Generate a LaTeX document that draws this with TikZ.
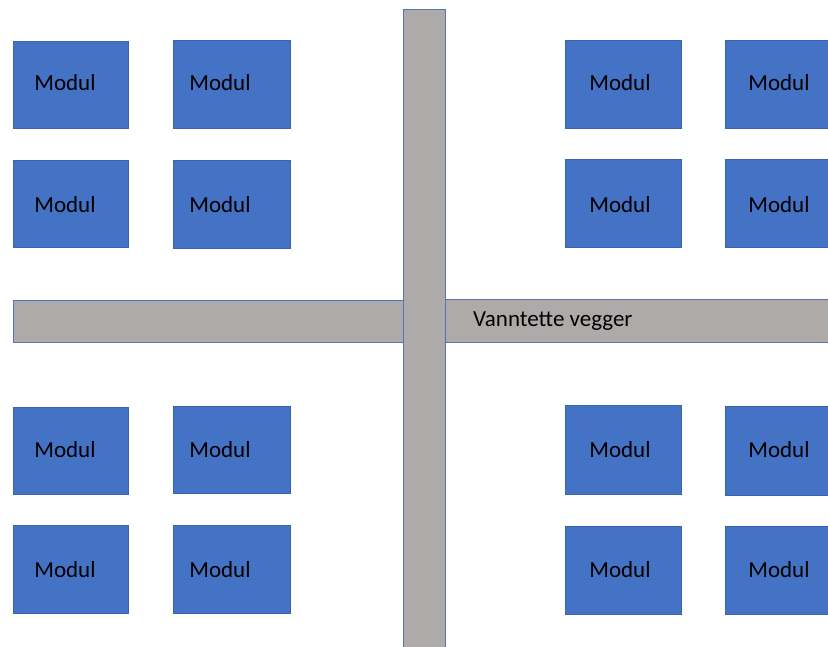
\documentclass[tikz,border=0pt]{standalone}
\usepackage{fontspec}
\setmainfont{Carlito}
\definecolor{modblue}{HTML}{4472C4}
\definecolor{modedge}{HTML}{3A64AE}
\definecolor{wallgray}{HTML}{AEAAAA}
\definecolor{walledge}{HTML}{5673B8}
\begin{document}
\begin{tikzpicture}[x=1pt,y=-1pt,
  modbox/.style={fill=modblue,draw=modedge,line width=0.8pt},
  wall/.style={fill=wallgray,draw=walledge,line width=0.9pt},
  lbl/.style={font=\fontsize{23}{28}\selectfont,text=black,inner sep=0pt}]
\useasboundingbox (0,0) rectangle (828,646);
\clip (0,0) rectangle (828,646);
\fill[white] (0,0) rectangle (828,646);
% horizontal walls
\draw[wall] (13,300) rectangle (404,342);
\draw[wall] (445,299) rectangle (840,342);
% vertical wall
\draw[wall] (403,9) rectangle (445,660);
% modules
\draw[modbox] (13,41) rectangle (128,128) node[pos=.5] (m11) {};
\draw[modbox] (173,40) rectangle (290,128) node[pos=.5] (m12) {};
\draw[modbox] (13,160) rectangle (128,247) node[pos=.5] (m21) {};
\draw[modbox] (173,160) rectangle (290,248) node[pos=.5] (m22) {};
\draw[modbox] (565,40) rectangle (681,128) node[pos=.5] (m13) {};
\draw[modbox] (725,40) rectangle (842,128) node[pos=.5] (m14) {};
\draw[modbox] (565,159) rectangle (681,247) node[pos=.5] (m23) {};
\draw[modbox] (725,159) rectangle (842,247) node[pos=.5] (m24) {};
\draw[modbox] (13,407) rectangle (128,494) node[pos=.5] (m31) {};
\draw[modbox] (173,406) rectangle (290,493) node[pos=.5] (m32) {};
\draw[modbox] (565,405) rectangle (681,494) node[pos=.5] (m33) {};
\draw[modbox] (725,406) rectangle (842,495) node[pos=.5] (m34) {};
\draw[modbox] (13,525) rectangle (128,613) node[pos=.5] (m41) {};
\draw[modbox] (173,525) rectangle (290,613) node[pos=.5] (m42) {};
\draw[modbox] (565,526) rectangle (681,614) node[pos=.5] (m43) {};
\draw[modbox] (725,526) rectangle (842,614) node[pos=.5] (m44) {};
% labels
\foreach \y/\r in {83/1,205/2,450/3,570/4}{
  \node[lbl] (t\r a) at (65,\y) {Modul};
  \node[lbl] (t\r b) at (220,\y) {Modul};
  \node[lbl] (t\r c) at (620,\y) {Modul};
  \node[lbl] (t\r d) at (779,\y) {Modul};
}
\node[lbl,anchor=west] (wl) at (473,321) {Vanntette vegger};
\end{tikzpicture}
\end{document}
